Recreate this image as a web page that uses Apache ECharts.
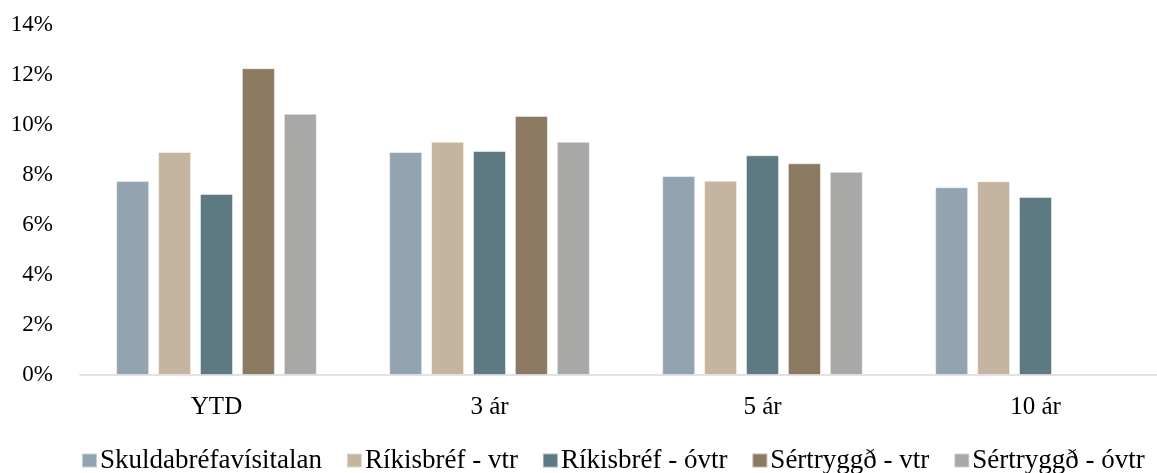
<!DOCTYPE html>
<html>
<head>
<meta charset="utf-8">
<script src="https://cdn.jsdelivr.net/npm/echarts@6/dist/echarts.min.js"></script>
<style>
  html, body { margin: 0; padding: 0; background: #fff; }
  #main { width: 1157px; height: 473px; }
</style>
</head>
<body>
<div id="main"></div>
<script>
// tímabil
var categories = ['YTD', '3 ár', '5 ár', '10 ár'];
var seriesNames = ['Skuldabréfavísitalan', 'Ríkisbréf - vtr', 'Ríkisbréf - óvtr', 'Sértryggð - vtr', 'Sértryggð - óvtr'];
var skuldabref = [7.76, 8.92, 7.96, 7.51];
var rikisVtr = [8.92, 9.33, 7.77, 7.75];
var rikisOvtr = [7.24, 8.96, 8.79, 7.12];
var sertrVtr = [12.27, 10.36, 8.47, null];
var sertrOvtr = [10.45, 9.33, 8.13, null];
var colors = ['#91a4b0', '#c5b5a0', '#5d7982', '#8b7a61', '#a8a8a6'];
var allData = [skuldabref, rikisVtr, rikisOvtr, sertrVtr, sertrOvtr];

var font = "'Liberation Serif', 'DejaVu Serif', serif";

var myChart = echarts.init(document.getElementById('main'));

var series = seriesNames.map(function(name, i) {
    return {
        name: name,
        type: 'bar',
        data: allData[i],
        barWidth: 33,
        barGap: '27%',
        itemStyle: {
            color: colors[i],
            borderColor: 'rgba(255,255,255,0.45)',
            borderWidth: 1
        }
    };
});

var option = {
    animation: false,
    color: colors,
    textStyle: { fontFamily: font },
    grid: {
        left: 80,
        width: 1092,
        top: 25,
        height: 350,
        outerBoundsMode: 'none',
        containLabel: false
    },
    legend: {
        left: 76,
        top: 442,
        itemWidth: 15,
        itemHeight: 14,
        itemGap: 24,
        icon: 'rect',
        textStyle: {
            fontFamily: font,
            fontSize: 27,
            color: '#000',
            padding: [0, 0, 0, -2]
        },
        data: seriesNames
    },
    xAxis: {
        type: 'category',
        data: categories,
        axisLine: { lineStyle: { color: '#d9d9d9', width: 1.5 } },
        axisTick: { show: false },
        axisLabel: {
            fontFamily: font,
            fontSize: 25,
            color: '#000',
            margin: 20
        }
    },
    yAxis: {
        type: 'value',
        min: 0,
        max: 14,
        interval: 2,
        axisLine: { show: false },
        axisTick: { show: false },
        splitLine: { show: false },
        axisLabel: {
            fontFamily: font,
            fontSize: 23,
            color: '#000',
            margin: 27,
            formatter: '{value}%'
        }
    },
    series: series
};

myChart.setOption(option);
</script>
</body>
</html>
